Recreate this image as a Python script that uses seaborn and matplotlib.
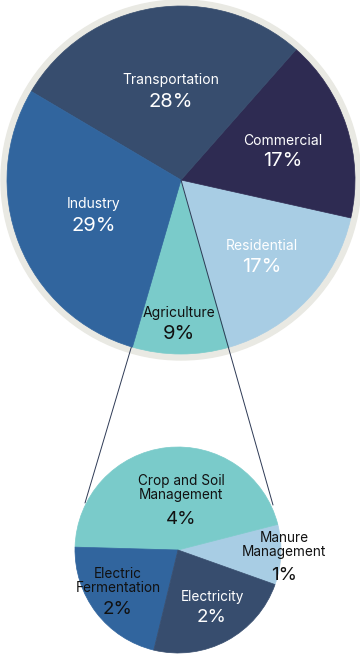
import matplotlib
matplotlib.use("Agg")
import matplotlib.pyplot as plt
from matplotlib.patches import Circle
import seaborn as sns

# sector shares (percent of total emissions)
sectors = ["Agriculture", "Residential", "Commercial", "Transportation", "Industry"]
sector_share = [9, 17, 17, 28, 29]
sector_labels = ["9%", "17%", "17%", "28%", "29%"]

# breakdown of agriculture
ag_parts = ["Manure\nManagement", "Crop and Soil\nManagement", "Electric\nFermentation", "Electricity"]
ag_share = [0.85, 4.1, 1.95, 2.1]
ag_labels = ["1%", "4%", "2%", "2%"]

W, H = 360, 654


def Y(y):
    # image pixel row -> axes y (upwards)
    return H - y


sns.set_theme(style="white")
plt.rcParams["font.family"] = ["Inter", "DejaVu Sans"]

top_colors = ["#7acbca", "#a8cde4", "#2e2b52", "#374d6e", "#31659e"]
top_text = ["#111111", "white", "white", "white", "white"]
top_pos = [(179, 313, 334), (262, 246, 267), (283, 141, 161), (171, 80, 102), (94, 204, 226)]

bot_colors = ["#a8cde4", "#7acbca", "#31659e", "#374d6e"]
bot_text = ["#111111", "#111111", "#111111", "white"]
bot_pos = [(284, 545, 575), (181, 488, 519), (118, 581, 610), (212, 597, 618)]

fig = plt.figure(figsize=(3.6, 6.54), dpi=100)
ax = fig.add_axes([0, 0, 1, 1])

top_c = (181, Y(180))
bot_c = (178, Y(550))

ax.add_patch(Circle(top_c, 180, color="#e9e9e3", zorder=0))

# connector lines from the top pie centre to the detail pie
ax.plot([top_c[0], 85], [top_c[1], Y(503)], color="#2e3a55", lw=0.7, zorder=0.5)
ax.plot([top_c[0], 273], [top_c[1], Y(505)], color="#2e3a55", lw=0.7, zorder=3)

wedges, _ = ax.pie(sector_share, colors=top_colors, startangle=270 - sector_share[0] * 1.8,
                   center=top_c, radius=174, frame=True, wedgeprops=dict(linewidth=0.5))
for w in wedges:
    w.set_edgecolor(w.get_facecolor())

wedges2, _ = ax.pie(ag_share, colors=bot_colors, startangle=-19.6,
                    center=bot_c, radius=103, frame=True, wedgeprops=dict(linewidth=0.5))
for w in wedges2:
    w.set_edgecolor(w.get_facecolor())

for name, pct, col, (x, yn, yp) in zip(sectors, sector_labels, top_text, top_pos):
    ax.text(x, Y(yn), name, ha="center", va="center", fontsize=10, color=col, zorder=5)
    ax.text(x, Y(yp), pct, ha="center", va="center", fontsize=14.5, color=col, zorder=5)

for name, pct, col, (x, yn, yp) in zip(ag_parts, ag_labels, bot_text, bot_pos):
    ax.text(x, Y(yn), name, ha="center", va="center", fontsize=9.8, color=col,
            linespacing=1.05, zorder=5)
    ax.text(x, Y(yp), pct, ha="center", va="center", fontsize=13.5, color=col, zorder=5)

ax.set_xlim(0, W)
ax.set_ylim(0, H)
ax.axis("off")

fig.savefig("out.png", dpi=100, facecolor="white")
